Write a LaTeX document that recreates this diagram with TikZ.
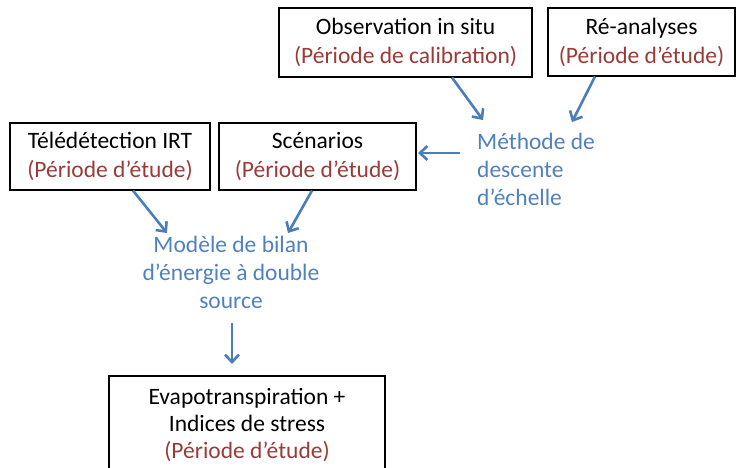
\documentclass[tikz,border=0pt]{standalone}
\usepackage{fontspec}
\setmainfont{Carlito}
\usetikzlibrary{arrows.meta,calc}
\definecolor{darkred}{HTML}{9A3B38}
\definecolor{txtblue}{HTML}{4F81BD}
\definecolor{arrblue}{HTML}{4A7EBB}
\begin{document}
\begin{tikzpicture}[x=1pt,y=-1pt,
 box/.style={draw=black,line width=1.1pt,fill=white,align=center,inner sep=0pt,font=\fontsize{23.5}{29}\selectfont},
 lbl/.style={text=txtblue,inner sep=0pt,font=\fontsize{23.5}{28}\selectfont},
 arr/.style={draw=arrblue,line width=2.6pt,-{Straight Barb[length=7.5pt,width=14pt]}}]
\useasboundingbox (0,0) rectangle (738,467);
\clip (0,0) rectangle (738,467);
\node[box,minimum width=253pt,minimum height=69pt] (obs) at (405.5,42.5) {Observation in situ\\\textcolor{darkred}{(Période de calibration)}};
\node[box,minimum width=187pt,minimum height=68pt] (rea) at (641.5,42) {Ré-analyses\\\textcolor{darkred}{(Période d’étude)}};
\node[box,minimum width=200pt,minimum height=67pt] (tele) at (110,156.5) {Télédétection IRT\\\textcolor{darkred}{(Période d’étude)}};
\node[box,minimum width=197pt,minimum height=67pt] (scen) at (317.5,156.5) {Scénarios\\\textcolor{darkred}{(Période d’étude)}};
\node[box,minimum width=276pt,minimum height=98pt,font=\fontsize{23.5}{27}\selectfont] (evap) at (247,425) {Evapotranspiration +\\Indices de stress\\\textcolor{darkred}{(Période d’étude)}};
\node[lbl,align=left,anchor=west] (meth) at (477,169.5) {Méthode de\\descente\\d’échelle};
\node[lbl,align=center] (mod) at (231,272.5) {Modèle de bilan\\d’énergie à double\\source};
\coordinate (m1) at (483,120);
\coordinate (m2) at (572,122);
\coordinate (m0) at (460,153);
\coordinate (s1) at (418,153);
\coordinate (d1) at (167,233);
\coordinate (d2) at (288,233);
\coordinate (d0) at (232,323);
\coordinate (e1) at (232,364);
\draw[arr] ($(obs.south)+(46.5,0)$) -- (m1);
\draw[arr] ($(rea.south)+(-46.5,0)$) -- (m2);
\draw[arr] (m0) -- (s1);
\draw[arr] ($(tele.south)+(23,0)$) -- (d1);
\draw[arr] ($(scen.south)+(-5.5,0)$) -- (d2);
\draw[arr] (d0) -- (e1);
\end{tikzpicture}
\end{document}
